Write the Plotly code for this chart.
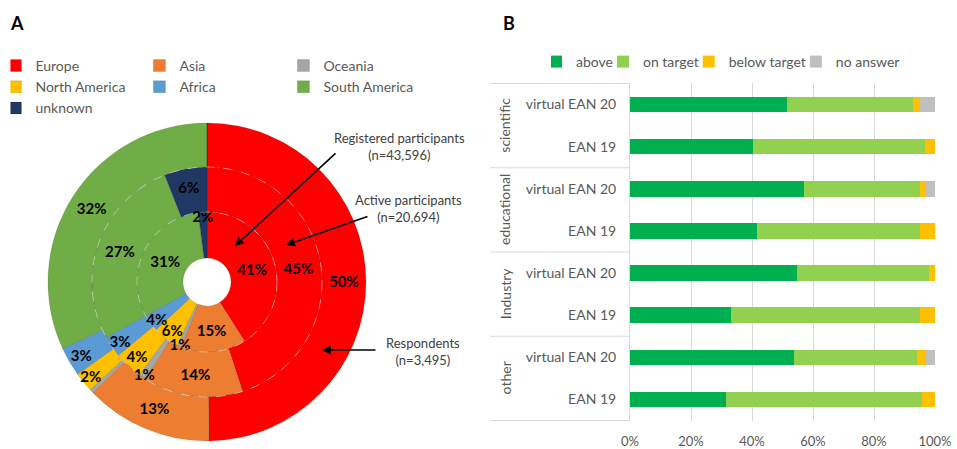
import plotly.graph_objects as go

# ---------------- data ----------------
regions = ["Europe", "Asia", "Oceania", "North America", "Africa", "South America", "unknown"]
region_colors = ["#FF0000", "#ED7D31", "#A5A5A5", "#FFC000", "#5B9BD5", "#70AD47", "#203864"]
registered = [41, 15, 1, 6, 4, 31, 2]
active = [45, 14, 1, 4, 3, 27, 6]
respondents = [50, 13, 0.4, 2, 3, 32, 0]

ring_names = ["Registered participants", "Active participants", "Respondents"]
ring_n = ["n=43,596", "n=20,694", "n=3,495"]

groups = ["scientific", "educational", "Industry", "other"]
editions = ["virtual EAN 20", "EAN 19"]
rating_names = ["above", "on target", "below target", "no answer"]
rating_colors = ["#00B050", "#92D050", "#FFC000", "#BFBFBF"]
above = [51.4, 40.2, 57.0, 41.7, 54.7, 33.0, 53.8, 31.5]
on_target = [41.5, 56.5, 38.1, 53.4, 43.4, 62.1, 40.4, 64.1]
below_target = [2.2, 3.3, 1.9, 4.9, 1.9, 4.9, 2.8, 4.4]
no_answer = [4.9, 0, 3.0, 0, 0, 0, 3.0, 0]
x_ticks = [0, 20, 40, 60, 80, 100]

# ---------------- geometry helpers ----------------
W, H = 957, 449
ML, MR, MT, MB = 20, 0, 0, 0
PW, PH = W - ML - MR, H - MT - MB


def px(x):
    return (x - ML) / PW


def py(y):
    return (H - MB - y) / PH


CX, CY = 207, 282
R_OUT, R_MID, R_IN, R_HOLE = 159, 115, 70, 24


def dom(r):
    return dict(x=[px(CX - r), px(CX + r)], y=[py(CY + r), py(CY - r)])


def labels_for(vals):
    return [f"{v:.0f}%" if v >= 1 else "" for v in vals]


fig = go.Figure()

pie_font = dict(family="Lato", size=15, color="black", weight="bold")
rings = [(registered, R_IN, R_HOLE), (active, R_MID, R_IN), (respondents, R_OUT, R_MID)]
# coloured rings
for i, (vals, r_out, r_in) in enumerate(rings):
    fig.add_trace(go.Pie(
        labels=regions, values=vals, textinfo="none",
        sort=False, direction="clockwise", rotation=0,
        hole=r_in / r_out, domain=dom(r_out), name=ring_names[i],
        marker=dict(colors=region_colors, line=dict(color="rgba(0,0,0,0.12)", width=1)),
        legend="legend", showlegend=True, hoverinfo="label+value",
    ))
# percentage labels drawn on top of all rings
for i, (vals, r_out, r_in) in enumerate(rings):
    fig.add_trace(go.Pie(
        labels=regions, values=vals, text=labels_for(vals), textinfo="text",
        textposition="inside", insidetextorientation="horizontal",
        textfont=pie_font, sort=False, direction="clockwise", rotation=0,
        hole=r_in / r_out, domain=dom(r_out), name=ring_names[i] + " labels",
        marker=dict(colors=["rgba(0,0,0,0)"] * len(regions), line=dict(width=0)),
        showlegend=False, hoverinfo="skip",
    ))

# ---------------- bar chart ----------------
cat_ids = [f"{g}|{e}" for g in groups for e in editions]
cat_text = [e for g in groups for e in editions]
series = [above, on_target, below_target, no_answer]
for name, col, vals in zip(rating_names, rating_colors, series):
    fig.add_trace(go.Bar(
        y=cat_ids, x=vals, name=name, orientation="h",
        marker=dict(color=col, line=dict(width=0)), legend="legend2",
    ))

grey = "#595959"
shapes = []
for k in range(len(groups) + 1):
    yb = k * len(editions) - 0.5
    shapes.append(dict(type="line", xref="paper", yref="y", x0=px(490), x1=px(630),
                       y0=yb, y1=yb, line=dict(color="#D9D9D9", width=1)))
# dashed separators between donut rings
for r in (R_IN, R_MID):
    shapes.append(dict(type="circle", xref="paper", yref="paper",
                       x0=px(CX - r), x1=px(CX + r), y0=py(CY + r), y1=py(CY - r),
                       line=dict(color="rgba(255,255,255,0.45)", width=1, dash="dash")))

annotations = []
for k, g in enumerate(groups):
    annotations.append(dict(text=g, xref="paper", yref="y", x=px(505),
                            y=k * len(editions) + (len(editions) - 1) / 2,
                            textangle=-90, showarrow=False,
                            font=dict(family="Lato", size=14, color=grey)))

annotations.append(dict(text="<b>A</b>", xref="paper", yref="paper", x=px(17), y=py(23),
                        xanchor="center", yanchor="middle",
                        showarrow=False, font=dict(family="Lato", size=18, color="black")))
annotations.append(dict(text="<b>B</b>", xref="paper", yref="paper", x=px(509), y=py(23),
                        xanchor="center", yanchor="middle",
                        showarrow=False, font=dict(family="Lato", size=18, color="black")))

label_pos = [(399, 147), (408, 209), (423, 351)]
arrows = [((337, 152), (235, 246)), ((369, 216), (286, 245)), ((377, 350), (322, 350))]
for i in range(3):
    lx, ly = label_pos[i]
    annotations.append(dict(text=f"{ring_names[i]}<br>({ring_n[i]})", xref="paper", yref="paper",
                            x=px(lx), y=py(ly), xanchor="center", yanchor="middle",
                            showarrow=False, align="center",
                            font=dict(family="Lato", size=13, color="#404040")))
    (tx, ty), (hx, hy) = arrows[i]
    annotations.append(dict(text="", xref="paper", yref="paper", x=px(hx), y=py(hy),
                            ax=tx - hx, ay=ty - hy, axref="pixel", ayref="pixel",
                            showarrow=True, arrowhead=2, arrowsize=1.1, arrowwidth=1.6,
                            arrowcolor="black"))

fig.update_layout(
    width=W, height=H,
    margin=dict(l=ML, r=MR, t=MT, b=MB, autoexpand=False),
    paper_bgcolor="white", plot_bgcolor="white",
    font=dict(family="Lato", size=13, color=grey),
    barmode="stack", bargap=0.63,
    uniformtext=dict(mode="show", minsize=15),
    xaxis=dict(domain=[px(630), px(935)], range=[0, 100], tickmode="array", tickvals=x_ticks,
               ticktext=[f"{v}%" for v in x_ticks],
               showgrid=True, gridcolor="#D9D9D9", gridwidth=1, zeroline=False, showline=False,
               tickfont=dict(family="Lato", size=13, color=grey), ticklabelstandoff=11,
               fixedrange=True),
    yaxis=dict(domain=[py(421), py(83)], type="category", categoryorder="array",
               categoryarray=cat_ids, tickvals=cat_ids, ticktext=cat_text,
               autorange="reversed", showgrid=False, showline=True, linecolor="#D9D9D9",
               ticks="", ticklabelstandoff=10, zeroline=False,
               tickfont=dict(family="Lato", size=14, color=grey), fixedrange=True),
    legend=dict(orientation="h", x=-0.0102, xanchor="left", y=py(50), yanchor="top",
                indentation=-15, entrywidth=114, entrywidthmode="pixels",
                font=dict(family="Lato", size=14, color=grey), bgcolor="rgba(0,0,0,0)",
                traceorder="normal"),
    legend2=dict(orientation="h", x=px(728), xanchor="center", y=py(46), yanchor="top",
                 indentation=-15,
                 font=dict(family="Lato", size=14, color=grey), bgcolor="rgba(0,0,0,0)",
                 traceorder="normal"),
    shapes=shapes, annotations=annotations,
)

fig.write_html("out.html")
